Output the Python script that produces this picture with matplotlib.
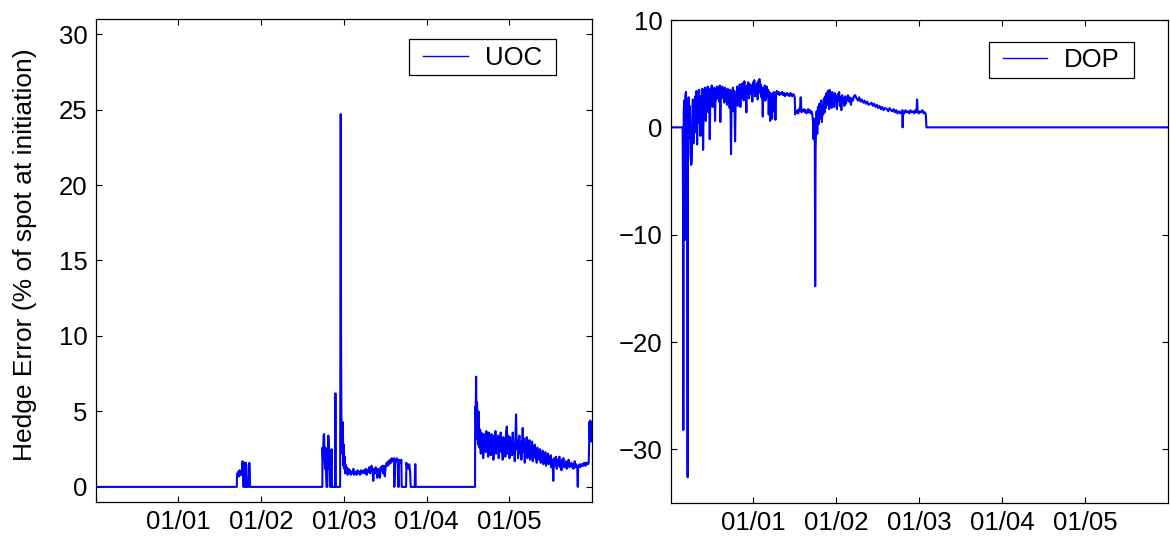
#!/usr/bin/env python3
"""
Hedge error of barrier options (UOC / DOP) over the test period.
"""

import numpy as np
import matplotlib.pyplot as plt
from matplotlib.patches import Rectangle

plt.rcParams['font.family'] = ['Liberation Sans', 'DejaVu Sans']

tick_pos = [1, 2, 3, 4, 5]
tick_labels = ['01/01', '01/02', '01/03', '01/04', '01/05']

# UOC hedge error (% of spot)
uoc_t = [0.000, 0.005, 0.020, 1.705,
         1.708, 1.713, 1.718, 1.723, 1.728, 1.733, 1.738, 1.743, 1.748, 1.753,
         1.758, 1.763, 1.768, 1.772, 1.776, 1.779, 1.783, 1.786, 1.789, 1.792,
         1.796, 1.800, 1.805, 1.810, 1.815, 1.820, 1.826, 1.830, 1.836, 1.842,
         1.848, 1.853, 1.858, 1.862, 1.866, 2.740,
         2.741, 2.748, 2.755, 2.761, 2.766, 2.772, 2.778, 2.784, 2.790, 2.800,
         2.805, 2.812, 2.818, 2.824, 2.830, 2.834, 2.842, 2.846, 2.852, 2.857,
         2.893, 2.898, 2.903, 2.955, 2.958, 2.962, 2.966, 2.970, 2.975, 2.980,
         2.985, 2.990, 2.995, 3.000, 3.005, 3.010, 3.015, 3.020, 3.025,
         3.035, 3.045, 3.055, 3.065, 3.075, 3.085, 3.095, 3.105, 3.115, 3.125,
         3.135, 3.145, 3.155, 3.165, 3.175, 3.185, 3.195, 3.205, 3.215, 3.225,
         3.235, 3.245, 3.255, 3.265, 3.275, 3.285, 3.295, 3.305, 3.315, 3.325,
         3.335, 3.345, 3.356, 3.365, 3.375, 3.385, 3.395, 3.405, 3.415, 3.425,
         3.437, 3.445, 3.455, 3.465, 3.475, 3.485, 3.495, 3.505, 3.518, 3.528,
         3.538, 3.548, 3.558, 3.568, 3.578, 3.590, 3.600, 3.607, 3.610, 3.620,
         3.630, 3.640, 3.650, 3.659, 3.662, 3.667, 3.675, 3.685, 3.695, 3.699,
         3.702, 3.712, 3.722, 3.732, 3.742, 3.752, 3.756, 3.765, 3.780, 3.790,
         3.800, 3.808, 3.857, 3.861, 3.866, 3.869, 4.586,
         4.587, 4.593, 4.599, 4.605, 4.610, 4.615, 4.621, 4.627, 4.633, 4.640,
         4.647, 4.655, 4.662, 4.670, 4.677, 4.685, 4.692, 4.700, 4.707, 4.715,
         4.722, 4.730, 4.737, 4.745, 4.752, 4.760, 4.768, 4.776, 4.784, 4.792,
         4.800, 4.808, 4.816, 4.824, 4.832, 4.840, 4.848, 4.856, 4.864, 4.872,
         4.880, 4.888, 4.896, 4.904, 4.912, 4.920, 4.928, 4.936, 4.944, 4.952,
         4.960, 4.970, 4.978, 4.986, 4.994, 5.002, 5.010, 5.018, 5.026, 5.034,
         5.042, 5.050, 5.058, 5.066, 5.074, 5.082, 5.090, 5.098, 5.106, 5.114,
         5.122, 5.130, 5.138, 5.146, 5.154, 5.162, 5.171, 5.179, 5.187, 5.195,
         5.203, 5.211, 5.219, 5.227, 5.235, 5.243, 5.251, 5.259, 5.267, 5.275,
         5.283, 5.291, 5.299, 5.307, 5.315, 5.323, 5.331, 5.339, 5.347, 5.355,
         5.363, 5.372, 5.380, 5.388, 5.396, 5.404, 5.412, 5.420, 5.428, 5.436,
         5.444, 5.452, 5.460, 5.468, 5.476, 5.484, 5.492, 5.500, 5.508, 5.516,
         5.524, 5.532, 5.540, 5.548, 5.556, 5.564, 5.574, 5.582, 5.590, 5.598,
         5.606, 5.614, 5.622, 5.630, 5.638, 5.646, 5.654, 5.662, 5.670, 5.678,
         5.686, 5.694, 5.702, 5.710, 5.718, 5.726, 5.734, 5.742, 5.750, 5.758,
         5.766, 5.775, 5.783, 5.791, 5.799, 5.807, 5.815, 5.822, 5.828, 5.832,
         5.840, 5.848, 5.856, 5.864, 5.872, 5.880, 5.888, 5.896, 5.904, 5.912,
         5.920, 5.928, 5.936, 5.944, 5.952, 5.960, 5.965, 5.968, 5.972, 5.977,
         5.981, 5.985, 5.989, 5.993, 5.997, 6.000]
uoc_err = [-0.3, 0.0, 0.0, 0.0,
           0.6, 0.9, 0.8, 1.0, 0.9, 0.7, 1.1, 0.9, 0.8, 1.0,
           0.9, 0.8, 1.1, 1.5, 1.7, 1.2, 1.6, 0.0, 0.0, 1.6,
           1.3, 1.5, 0.0, 0.0, 1.6, 1.4, 0.0, 0.0, 0.0, 0.0,
           0.0, 1.5, 1.6, 1.4, 0.0, 0.0,
           2.6, 1.8, 3.4, 3.5, 2.0, 1.2, 2.6, 1.0, 0.0, 0.0,
           1.6, 3.4, 2.8, 1.2, 2.4, 0.0, 0.0, 1.5, 2.5, 0.0,
           0.0, 6.2, 0.0, 0.0, 12.0, 24.7, 10.0, 4.7, 3.5, 2.2,
           4.3, 3.2, 1.4, 2.8, 1.2, 2.0, 0.9, 1.5, 1.1,
           1.3, 0.8, 1.2, 0.9, 1.1, 0.8, 1.0, 0.9, 1.2, 0.8,
           1.0, 0.9, 0.8, 1.1, 0.9, 1.0, 0.8, 1.1, 0.9, 1.0,
           1.1, 0.9, 1.0, 1.2, 0.8, 1.1, 1.0, 1.3, 0.9, 1.2,
           1.4, 1.0, 0.4, 1.2, 0.9, 1.3, 1.1, 0.6, 1.2, 1.0,
           0.6, 1.3, 1.1, 1.4, 0.9, 1.4, 0.7, 1.3, 1.6, 1.4,
           1.7, 1.5, 1.8, 1.6, 1.9, 1.7, 1.8, 1.9, 0.0, 1.8,
           1.7, 1.9, 1.6, 0.0, 0.0, 1.8, 1.7, 1.6, 1.8, 0.0,
           0.0, 0.0, 0.0, 0.0, 0.0, 0.0, 1.6, 1.3, 1.2, 1.5,
           1.1, 0.0, 0.0, 1.5, 1.5, 0.0, 0.0,
           5.3, 4.5, 7.3, 3.2, 5.6, 4.2, 2.8, 5.0, 3.4, 2.6,
           3.8, 2.2, 3.6, 2.9, 3.3, 1.9, 3.5, 2.6, 3.1, 2.3,
           3.7, 2.5, 3.2, 2.0, 3.6, 2.8, 3.3, 2.1, 3.5, 2.7,
           3.4, 1.8, 3.0, 2.4, 3.7, 2.2, 3.1, 2.6, 3.4, 1.9,
           3.2, 2.5, 3.6, 2.3, 2.9, 1.8, 3.3, 2.6, 3.1, 2.0,
           3.5, 4.0, 2.2, 3.4, 2.7, 1.9, 3.3, 2.4, 3.0, 2.1,
           3.6, 2.3, 2.9, 1.7, 3.2, 4.8, 2.5, 3.1, 1.9, 2.8,
           3.4, 2.2, 3.0, 1.8, 2.7, 3.9, 2.3, 3.2, 1.6, 2.9,
           2.2, 3.3, 1.9, 2.7, 2.4, 3.1, 1.8, 2.6, 2.1, 3.0,
           1.7, 2.5, 2.2, 2.8, 1.9, 2.4, 1.6, 2.6, 2.0, 2.3,
           1.8, 2.5, 1.6, 2.2, 1.9, 2.4, 1.5, 2.1, 1.8, 2.3,
           1.4, 2.0, 1.7, 2.2, 1.5, 1.9, 1.6, 2.1, 1.3, 1.8,
           1.5, 0.4, 1.9, 1.4, 1.7, 2.0, 1.2, 1.8, 1.4, 1.6,
           2.0, 1.3, 1.7, 1.1, 1.8, 1.5, 1.9, 1.3, 1.6, 1.4,
           1.7, 1.2, 1.6, 1.5, 1.8, 1.3, 1.5, 1.4, 1.6, 1.3,
           1.5, 1.2, 1.4, 1.7, 1.3, 1.5, 1.4, 1.2, 0.0, 1.3,
           1.4, 1.5, 1.3, 1.4, 1.5, 1.4, 1.5, 1.4, 1.6, 1.5,
           1.4, 1.6, 1.5, 1.6, 1.5, 1.6, 2.8, 4.3, 3.2, 4.4,
           3.5, 4.2, 3.0, 4.3, 3.4, 4.1]

# DOP hedge error (% of spot)
dop_t = [0.000, 0.145, 0.150, 0.153, 0.158, 0.165, 0.173, 0.178, 0.185, 0.192,
         0.198, 0.205, 0.210, 0.218, 0.225, 0.232, 0.240, 0.248, 0.256, 0.262,
         0.268, 0.275, 0.282, 0.290, 0.298, 0.305, 0.312, 0.320, 0.328, 0.336,
         0.344, 0.352, 0.360, 0.368, 0.376, 0.384, 0.392, 0.400, 0.408, 0.416,
         0.424, 0.432, 0.440, 0.448, 0.456, 0.464, 0.472, 0.480, 0.488, 0.496,
         0.504, 0.512, 0.520, 0.528, 0.536, 0.544, 0.552, 0.560, 0.568, 0.576,
         0.584, 0.592, 0.600, 0.608, 0.616, 0.624, 0.632, 0.640, 0.648, 0.656,
         0.664, 0.672, 0.680, 0.688, 0.696, 0.704, 0.712, 0.720, 0.729, 0.736,
         0.744, 0.752, 0.760, 0.768, 0.778, 0.786, 0.794, 0.802, 0.810, 0.818,
         0.826, 0.834, 0.842, 0.850, 0.858, 0.866, 0.874, 0.882, 0.890, 0.898,
         0.906, 0.914, 0.922, 0.930, 0.938, 0.946, 0.954, 0.962, 0.970, 0.978,
         0.986, 0.994, 1.002, 1.010, 1.018, 1.026, 1.034, 1.042, 1.050, 1.058,
         1.066, 1.072, 1.080, 1.088, 1.096, 1.104, 1.112, 1.120, 1.128, 1.136,
         1.144, 1.152, 1.160, 1.168, 1.176, 1.184, 1.192, 1.201, 1.209, 1.217,
         1.225, 1.233, 1.241, 1.249, 1.257, 1.265, 1.273, 1.281, 1.292, 1.303,
         1.314, 1.325, 1.336, 1.347, 1.358, 1.369, 1.380, 1.391, 1.402, 1.413,
         1.424, 1.435, 1.446, 1.457, 1.468, 1.479, 1.490, 1.498, 1.503, 1.510,
         1.520, 1.530, 1.540, 1.550, 1.560, 1.570, 1.580, 1.590, 1.600, 1.610,
         1.620, 1.630, 1.640, 1.650, 1.660, 1.670, 1.680, 1.690, 1.700, 1.710,
         1.718, 1.725, 1.732, 1.740, 1.745, 1.750, 1.756, 1.762, 1.770, 1.778,
         1.786, 1.794, 1.802, 1.810, 1.818, 1.826, 1.834, 1.842, 1.850, 1.858,
         1.866, 1.874, 1.882, 1.890, 1.898, 1.906, 1.912, 1.918, 1.926, 1.934,
         1.942, 1.950, 1.958, 1.966, 1.974, 1.982, 1.990, 1.998, 2.007, 2.016,
         2.025, 2.034, 2.043, 2.052, 2.061, 2.070, 2.079, 2.088, 2.097, 2.106,
         2.115, 2.128, 2.140, 2.152, 2.164, 2.176, 2.188, 2.200, 2.212, 2.228,
         2.244, 2.260, 2.276, 2.292, 2.308, 2.324, 2.340, 2.356, 2.372, 2.388,
         2.410, 2.426, 2.442, 2.458, 2.474, 2.490, 2.506, 2.522, 2.538, 2.554,
         2.570, 2.586, 2.611, 2.627, 2.643, 2.659, 2.675, 2.691, 2.707, 2.723,
         2.739, 2.755, 2.773, 2.785, 2.795, 2.801, 2.807, 2.820, 2.835, 2.850,
         2.865, 2.880, 2.895, 2.910, 2.925, 2.940, 2.955, 2.968, 2.975, 2.982,
         2.995, 3.010, 3.025, 3.040, 3.056, 3.068, 3.080, 3.088, 3.095, 6.000]
dop_err = [0.0, 0.0, -8.0, -28.2, 1.5, 2.5, -10.5, 3.0, 3.3, 1.0,
           -2.0, -32.6, 0.5, 2.8, -1.0, 2.0, -2.5, -3.5, -3.2, 1.0,
           2.6, -1.5, 1.8, -0.5, 2.9, 0.8, 3.4, -1.6, 2.2, 0.4,
           3.5, 1.2, -0.8, 2.9, 1.5, 3.6, -2.1, 3.0, 1.8, 3.7,
           0.6, 3.4, 2.2, 3.8, 1.4, 3.2, -1.1, 3.6, 2.5, 3.9,
           1.9, 3.3, 2.8, 3.7, 0.6, 3.5, 2.6, 3.8, 3.1, 3.6,
           2.4, 3.9, 0.5, 3.4, 2.7, 3.8, 3.2, 3.5, 2.3, 3.7,
           3.0, 3.4, 2.1, 3.6, 2.9, 3.3, 1.8, 3.5, -2.5, 3.2,
           2.6, 3.7, 1.5, 3.4, -1.3, 3.0, 2.4, 3.8, 2.0, 3.5,
           3.1, 4.0, 1.9, 3.6, 2.8, 4.1, 3.2, 2.5, 4.3, 3.0,
           3.7, 1.4, 3.9, 3.3, 4.2, 2.7, 3.5, 4.0, 3.1, 3.8,
           2.4, 4.2, 3.6, 4.4, 2.9, 3.9, 3.4, 4.1, 2.6, 4.3,
           3.5, 4.5, 3.2, 4.0, 2.8, 3.7, 1.0, 3.6, 3.1, 3.9,
           2.5, 3.4, 3.8, 2.9, 3.5, 1.2, 3.3, 0.6, 2.6, 3.1,
           0.8, 3.2, 1.5, 3.3, 2.9, 0.7, 3.0, 3.4, 3.1, 3.3,
           3.0, 3.2, 3.1, 3.3, 3.0, 3.2, 2.9, 3.1, 3.2, 3.0,
           3.1, 2.9, 3.2, 3.0, 2.9, 3.1, 3.0, 2.8, 1.2, 1.5,
           1.4, 1.6, 1.3, 1.7, 1.5, 2.8, 1.4, 1.6, 1.5, 1.7,
           1.4, 1.6, 1.3, 1.5, 1.7, 1.4, 1.6, 1.3, 1.5, 1.2,
           0.6, -1.1, 0.8, -0.5, -14.8, -2.0, 0.2, 1.5, -0.6, 1.9,
           0.3, 2.2, 0.8, 1.6, 2.5, 0.5, 2.0, 1.2, 2.7, 1.4,
           2.9, 1.8, 3.2, 2.1, 3.4, 2.4, 1.7, 3.5, 2.2, 3.1,
           1.8, 3.3, 2.6, 3.0, 1.9, 3.2, 2.4, 2.9, 1.7, 3.1,
           2.5, 3.3, 2.0, 2.8, 1.6, 3.0, 2.3, 2.7, 2.0, 2.9,
           2.2, 2.6, 3.0, 2.4, 2.8, 2.1, 2.7, 2.5, 2.9, 3.0,
           2.7, 2.5, 2.8, 2.4, 2.6, 2.3, 2.5, 2.2, 2.4, 2.1,
           2.2, 2.3, 2.0, 2.2, 1.9, 2.1, 1.8, 2.0, 1.7, 1.9,
           1.6, 1.8, 1.7, 1.5, 1.8, 1.6, 1.5, 1.7, 1.4, 1.6,
           1.3, 1.5, 1.3, 1.4, 1.6, 0.0, 1.5, 1.3, 1.6, 1.4,
           1.5, 1.3, 1.6, 1.4, 1.5, 1.3, 1.6, 1.4, 2.6, 1.5,
           1.3, 1.5, 1.4, 1.6, 1.3, 1.4, 1.2, 0.0, 0.0, 0.0]

blue = (0, 0, 1)
fs = 18.5


def style_axes(ax, ylim, yticks):
    ax.set_xlim(0, 6)
    ax.set_ylim(*ylim)
    ax.set_xticks(tick_pos)
    ax.set_xticklabels(tick_labels)
    ax.set_yticks(yticks)
    ax.tick_params(direction='in', length=4, width=0.8, labelsize=fs,
                   top=True, right=True, pad=6)
    for s in ax.spines.values():
        s.set_linewidth(0.9)


fig = plt.figure(figsize=(11.7, 5.4), dpi=100)
ax1 = fig.add_axes([0.0818, 0.0704, 0.4242, 0.8944])
ax2 = fig.add_axes([0.5732, 0.0685, 0.4248, 0.8944])

ax1.plot(uoc_t, uoc_err, color=blue, linewidth=1.5, label='UOC')
style_axes(ax1, (-1, 31), [0, 5, 10, 15, 20, 25, 30])
ax1.set_ylabel('Hedge Error (% of spot at initiation)', fontsize=19)
ax1.yaxis.set_label_coords(-0.118, 0.512)

ax2.plot(dop_t, dop_err, color=blue, linewidth=1.5, label='DOP')
style_axes(ax2, (-35, 10), [-30, -20, -10, 0, 10])

# legends: frameless, then a box drawn around them with extra side padding
legends = []
for ax, anchor in ((ax1, (0.9145, 0.9607)), (ax2, (0.9195, 0.9575))):
    leg = ax.legend(loc='upper right', bbox_to_anchor=anchor,
                    borderaxespad=0, fontsize=fs, frameon=False,
                    handlelength=1.75, handletextpad=0.65, borderpad=0.3)
    for h in leg.get_lines():
        h.set_linewidth(1.0)
    leg.set_zorder(6)
    legends.append((ax, leg))

fig.canvas.draw()
side = 6
inv = fig.transFigure.inverted()
for ax, leg in legends:
    bb = leg.get_window_extent()
    x0, y0 = inv.transform((bb.x0 - side, bb.y0 + 2))
    x1, y1 = inv.transform((bb.x1 + side, bb.y1 - 1))
    ax.add_patch(Rectangle((x0, y0), x1 - x0, y1 - y0, transform=fig.transFigure,
                           facecolor='white', edgecolor='black',
                           linewidth=0.9, zorder=5, clip_on=False))

fig.savefig('out.png', dpi=100)
